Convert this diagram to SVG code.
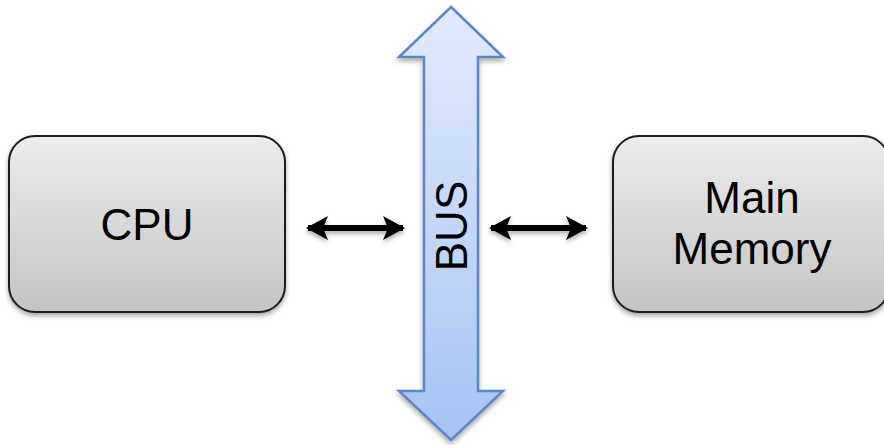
<svg xmlns="http://www.w3.org/2000/svg" width="884" height="445" viewBox="0 0 884 445">
  <style>
    .box { stroke: #1a1a1a; stroke-width: 2; fill: url(#boxFill); filter: url(#shadow); }
    .label { font-family: "Liberation Sans", Arial, sans-serif; font-size: 44px; fill: #000; text-anchor: middle; }
    .link { stroke: #000; stroke-width: 6; fill: none; marker-start: url(#head); marker-end: url(#head); }
  </style>
  <defs>
    <linearGradient id="boxFill" x1="0" y1="0" x2="0" y2="1">
      <stop offset="0" stop-color="#ececec"/>
      <stop offset="1" stop-color="#c4c4c4"/>
    </linearGradient>
    <linearGradient id="busFill" x1="0" y1="0" x2="0" y2="1">
      <stop offset="0" stop-color="#e2ebfb"/>
      <stop offset="1" stop-color="#a6c3f4"/>
    </linearGradient>
    <filter id="shadow" x="-10%" y="-10%" width="130%" height="140%">
      <feDropShadow dx="0" dy="3" stdDeviation="2.5" flood-color="#000" flood-opacity="0.35"/>
    </filter>
    <!-- flat lines have a zero-height bbox, so the connector shadow uses a fixed region -->
    <filter id="lineShadow" filterUnits="userSpaceOnUse" x="0" y="0" width="884" height="445">
      <feDropShadow dx="0" dy="3" stdDeviation="2" flood-color="#000" flood-opacity="0.3"/>
    </filter>
    <marker id="head" viewBox="0 0 22 24" refX="20" refY="12" markerWidth="22" markerHeight="24" orient="auto-start-reverse" markerUnits="userSpaceOnUse">
      <path d="M0,0 L22,12 L0,24 L5,12 Z" fill="#000"/>
    </marker>
  </defs>

  <!-- system bus: double-headed block arrow -->
  <g id="bus">
    <path d="M451,7 L503,57 L478,57 L478,391 L503,391 L451,440 L399,391 L424,391 L424,57 L399,57 Z"
          fill="url(#busFill)" stroke="#5b87c5" stroke-width="2.5" stroke-linejoin="miter" filter="url(#shadow)"/>
    <text class="label" transform="translate(467,226) rotate(-90)">BUS</text>
  </g>

  <g id="cpu">
    <rect class="box" x="9" y="136" width="276" height="176" rx="26" ry="26"/>
    <text class="label" x="147" y="240">CPU</text>
  </g>

  <g id="memory">
    <rect class="box" x="613" y="136" width="276" height="176" rx="26" ry="26"/>
    <text class="label" x="752" y="213">Main</text>
    <text class="label" x="752" y="264">Memory</text>
  </g>

  <g id="connectors" filter="url(#lineShadow)">
    <line class="link" x1="308" y1="228" x2="403" y2="228"/>
    <line class="link" x1="491" y1="228" x2="586" y2="228"/>
  </g>
</svg>
